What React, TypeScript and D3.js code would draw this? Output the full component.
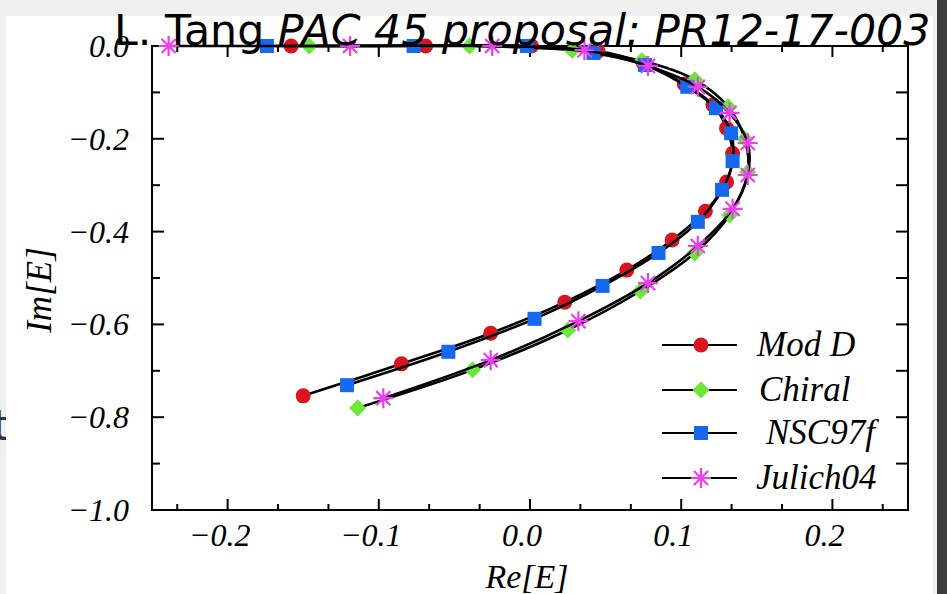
import React from 'react';
import * as d3 from 'd3';

// ---- data ----
const modDRe = [-0.158, -0.069, 0.001, 0.045, 0.075, 0.102, 0.121, 0.130, 0.134, 0.130, 0.116, 0.094, 0.064, 0.023, -0.026, -0.085, -0.150];
const modDIm = [0, 0, 0, -0.011, -0.037, -0.082, -0.127, -0.177, -0.231, -0.293, -0.356, -0.418, -0.483, -0.552, -0.619, -0.685, -0.754];

const chiralRe = [-0.146, -0.040, 0.028, 0.074, 0.109, 0.131, 0.142, 0.144, 0.132, 0.109, 0.073, 0.025, -0.038, -0.114];
const chiralIm = [0, 0, -0.009, -0.032, -0.073, -0.131, -0.200, -0.272, -0.364, -0.446, -0.528, -0.612, -0.698, -0.780];

const nscRe = [-0.174, -0.077, -0.002, 0.042, 0.076, 0.104, 0.123, 0.133, 0.134, 0.127, 0.111, 0.085, 0.048, 0.003, -0.054, -0.121];
const nscIm = [0, 0, 0, -0.015, -0.041, -0.088, -0.134, -0.188, -0.248, -0.310, -0.379, -0.446, -0.517, -0.588, -0.659, -0.731];

const julichRe = [-0.239, -0.119, -0.025, 0.036, 0.078, 0.111, 0.132, 0.144, 0.144, 0.134, 0.111, 0.078, 0.032, -0.026, -0.097];
const julichIm = [0, 0, 0, -0.009, -0.043, -0.088, -0.144, -0.209, -0.278, -0.351, -0.431, -0.511, -0.593, -0.677, -0.759];

const seriesNames = ['Mod D', 'Chiral', 'NSC97f', 'Julich04'];

const xMajorTicks = [-0.2, -0.1, 0.0, 0.1, 0.2];
const xTickLabels = ['\u22120.2', '\u22120.1', '0.0', '0.1', '0.2'];
const xMinorTicks = [-0.2333, -0.1667, -0.1333, -0.0667, -0.0333, 0.0333, 0.0667, 0.1333, 0.1667, 0.2333];

const yMajorTicks = [0, -0.2, -0.4, -0.6, -0.8, -1.0];
const yTickLabels = ['0.0', '\u22120.2', '\u22120.4', '\u22120.6', '\u22120.8', '\u22121.0'];
const yMinorTicks = [-0.1, -0.3, -0.5, -0.7, -0.9];

// ---- layout ----
const W = 947, H = 594;
const L = 152, R = 908, T = 46, B = 510;
const serif = '"Liberation Serif", "Times New Roman", serif';
const sans = '"DejaVu Sans", sans-serif';

const RED = '#d9141e';
const GREEN = '#6ae83a';
const BLUE = '#1569ee';
const MAGENTA = '#f03cf0';

type Pt = [number, number];

function zip(re: number[], im: number[]): Pt[] {
  return re.map((r, i) => [r, im[i]] as Pt);
}

function Marker({ kind, cx, cy }: { kind: string; cx: number; cy: number }) {
  if (kind === 'circle') return <circle cx={cx} cy={cy} r={7.5} fill={RED} />;
  if (kind === 'square') return <rect x={cx - 7} y={cy - 7} width={14} height={14} fill={BLUE} />;
  if (kind === 'diamond')
    return <path d={`M${cx},${cy - 8.5}L${cx + 8.5},${cy}L${cx},${cy + 8.5}L${cx - 8.5},${cy}Z`} fill={GREEN} />;
  const r = 10, d = r * 0.7071;
  return (
    <path
      d={`M${cx - r},${cy}H${cx + r}M${cx},${cy - r}V${cy + r}M${cx - d},${cy - d}L${cx + d},${cy + d}M${cx - d},${cy + d}L${cx + d},${cy - d}`}
      stroke={MAGENTA}
      strokeWidth={2.2}
      fill="none"
    />
  );
}

export default function App() {
  const x = d3.scaleLinear().domain([-0.25, 0.25]).range([L, R]);
  const y = d3.scaleLinear().domain([-1, 0]).range([B, T]);
  const line = d3
    .line<Pt>()
    .x((d) => x(d[0]))
    .y((d) => y(d[1]))
    .curve(d3.curveCatmullRom.alpha(0.5));

  const series = [
    { name: seriesNames[0], pts: zip(modDRe, modDIm), kind: 'circle' },
    { name: seriesNames[1], pts: zip(chiralRe, chiralIm), kind: 'diamond' },
    { name: seriesNames[2], pts: zip(nscRe, nscIm), kind: 'square' },
    { name: seriesNames[3], pts: zip(julichRe, julichIm), kind: 'star' },
  ];

  const legendRowY = [345, 390, 433, 478];
  const legendTextX = [757, 759, 766, 756];

  return (
    <svg width={W} height={H} style={{ position: 'absolute', left: 0, top: 0 }}>
      <rect x={0} y={0} width={W} height={H} fill="#efefef" />
      <text x={-7} y={440} fontFamily={sans} fontSize={42} fill="#333">t</text>
      <rect x={6} y={16} width={927} height={H - 16} fill="#ffffff" />
      <rect x={937} y={0} width={10} height={H} fill="#3c3c3c" />

      {/* frame */}
      <rect x={L} y={T} width={R - L} height={B - T} fill="none" stroke="#000" strokeWidth={2} />

      {/* x ticks */}
      {xMajorTicks.map((t) => (
        <g key={'xM' + t}>
          <line x1={x(t)} x2={x(t)} y1={B} y2={B - 11} stroke="#000" strokeWidth={2} />
          <line x1={x(t)} x2={x(t)} y1={T} y2={T + 11} stroke="#000" strokeWidth={2} />
        </g>
      ))}
      {xMinorTicks.map((t) => (
        <g key={'xm' + t}>
          <line x1={x(t)} x2={x(t)} y1={B} y2={B - 6} stroke="#000" strokeWidth={2} />
          <line x1={x(t)} x2={x(t)} y1={T} y2={T + 6} stroke="#000" strokeWidth={2} />
        </g>
      ))}
      {/* y ticks */}
      {yMajorTicks.map((t) => (
        <g key={'yM' + t}>
          <line x1={L} x2={L + 12} y1={y(t)} y2={y(t)} stroke="#000" strokeWidth={2} />
          <line x1={R} x2={R - 12} y1={y(t)} y2={y(t)} stroke="#000" strokeWidth={2} />
        </g>
      ))}
      {yMinorTicks.map((t) => (
        <g key={'ym' + t}>
          <line x1={L} x2={L + 8} y1={y(t)} y2={y(t)} stroke="#000" strokeWidth={2} />
          <line x1={R} x2={R - 12} y1={y(t)} y2={y(t)} stroke="#000" strokeWidth={2} />
        </g>
      ))}

      {/* tick labels */}
      {xMajorTicks.map((t, i) => (
        <text key={'xl' + t} x={x(t) - 8} y={546} textAnchor="middle" fontFamily={serif} fontStyle="italic" fontSize={32}>
          {xTickLabels[i]}
        </text>
      ))}
      {yMajorTicks.map((t, i) => (
        <text key={'yl' + t} x={129} y={y(t) + 11} textAnchor="end" fontFamily={serif} fontStyle="italic" fontSize={32}>
          {yTickLabels[i]}
        </text>
      ))}

      {/* axis titles */}
      <text x={527} y={588} textAnchor="middle" fontFamily={serif} fontStyle="italic" fontSize={34}>Re[E]</text>
      <text transform="translate(51,290) rotate(-90)" textAnchor="middle" fontFamily={serif} fontStyle="italic" fontSize={35}>Im[E]</text>

      {/* series */}
      {series.map((s) => (
        <g key={s.name}>
          <path d={line(s.pts) || ''} fill="none" stroke="#000" strokeWidth={2.6} />
          {s.pts.map((p, j) => (
            <Marker key={j} kind={s.kind} cx={x(p[0])} cy={y(p[1])} />
          ))}
        </g>
      ))}

      {/* legend */}
      {series.map((s, i) => (
        <g key={'lg' + s.name}>
          <line x1={662} x2={737} y1={legendRowY[i]} y2={legendRowY[i]} stroke="#000" strokeWidth={2.2} />
          <Marker kind={s.kind} cx={701} cy={legendRowY[i]} />
          <text x={legendTextX[i]} y={legendRowY[i] + 11} fontFamily={serif} fontStyle="italic" fontSize={35}>
            {s.name}
          </text>
        </g>
      ))}

      {/* title */}
      <text x={114} y={45} fontFamily={sans} fontSize={42.7} fill="#000">
        L. Tang <tspan fontStyle="italic">PAC 45 proposal: PR12-17-003</tspan>
      </text>
    </svg>
  );
}
